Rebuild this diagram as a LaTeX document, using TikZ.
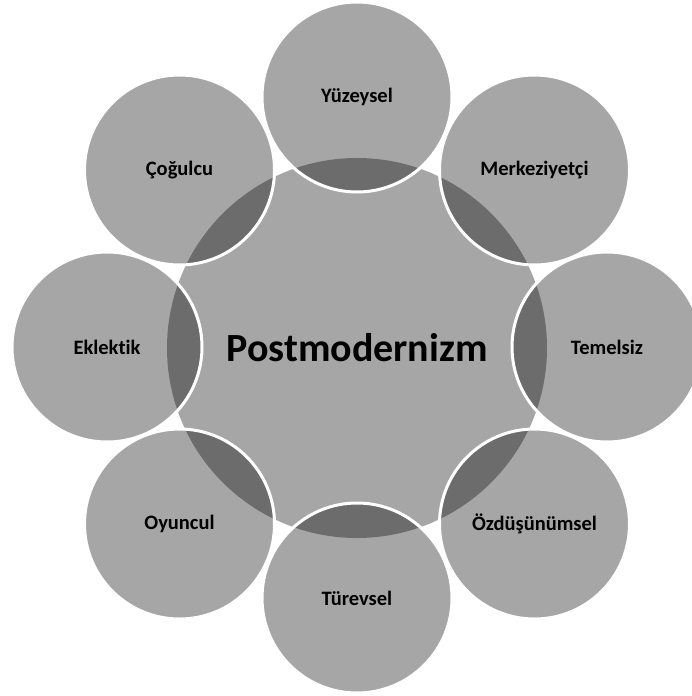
\documentclass[tikz,border=0pt]{standalone}
\usepackage{fontspec}
\setmainfont{Carlito}[Ligatures={NoCommon,NoRare,NoContextual}]
\begin{document}
\begin{tikzpicture}[x=1pt,y=-1pt,
  hub/.style={circle, minimum size=380pt, inner sep=0pt, fill=black!35,
    font=\bfseries\fontsize{40}{48}\selectfont},
  spoke/.style={circle, minimum size=190pt, inner sep=0pt, fill=black, fill opacity=0.35,
    draw=white, draw opacity=1, line width=3pt, text opacity=1,
    font=\bfseries\fontsize{20.5}{24}\selectfont}]
\useasboundingbox (0,0) rectangle (692,696);
\node[hub] (c) at (357,348) {Postmodernizm};
\node[spoke] (o1) at (357,97) {Yüzeysel};
\node[spoke] (o2) at (534.5,170) {Merkeziyetçi};
\node[spoke] (o3) at (607,347) {Temelsiz};
\node[spoke] (o4) at (534.5,524) {Özdüşünümsel};
\node[spoke] (o5) at (357,598) {Türevsel};
\node[spoke] (o6) at (179.5,524) {Oyuncul};
\node[spoke] (o7) at (107,347) {Eklektik};
\node[spoke] (o8) at (179.5,170) {Çoğulcu};
\end{tikzpicture}
\end{document}
